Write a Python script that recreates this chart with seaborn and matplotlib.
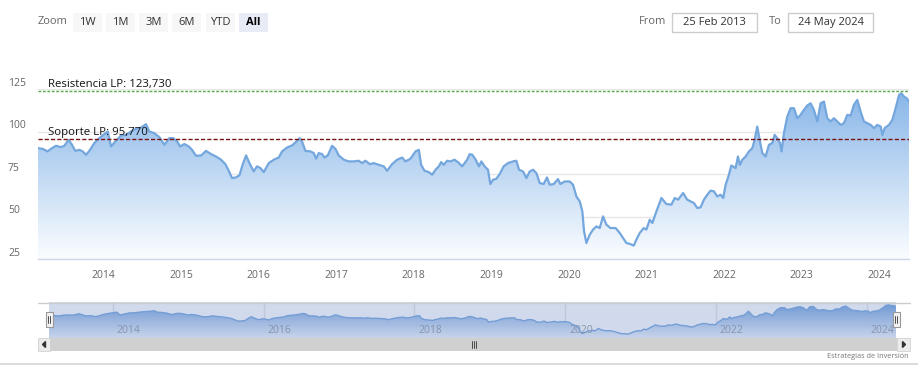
#!/usr/bin/env python3
import numpy as np
import pandas as pd
import matplotlib
matplotlib.use("Agg")
import matplotlib.pyplot as plt
from matplotlib.colors import LinearSegmentedColormap
from matplotlib.patches import Rectangle, Polygon
from matplotlib.transforms import blended_transform_factory, offset_copy
import seaborn as sns

# Price series (decimal years / closing price)
years = [
    2013.153, 2013.213, 2013.277, 2013.320, 2013.385, 2013.449, 2013.492, 2013.548, 2013.591, 2013.634,
    2013.686, 2013.729, 2013.772, 2013.815, 2013.880, 2013.944, 2014.009, 2014.052, 2014.095, 2014.159,
    2014.224, 2014.288, 2014.353, 2014.417, 2014.482, 2014.546, 2014.589, 2014.654, 2014.718, 2014.783,
    2014.847, 2014.899, 2014.955, 2014.985, 2015.041, 2015.097, 2015.140, 2015.191, 2015.256, 2015.320,
    2015.385, 2015.449, 2015.514, 2015.570, 2015.613, 2015.656, 2015.708, 2015.751, 2015.794, 2015.837,
    2015.880,
    2015.935, 2015.978, 2016.022, 2016.065, 2016.129, 2016.194, 2016.258, 2016.301, 2016.366, 2016.430,
    2016.486, 2016.529, 2016.559, 2016.602, 2016.667, 2016.710, 2016.740, 2016.774, 2016.817, 2016.847,
    2016.890, 2016.946, 2016.989, 2017.032, 2017.097, 2017.161, 2017.226, 2017.290, 2017.333, 2017.376,
    2017.432, 2017.484, 2017.548, 2017.613, 2017.656, 2017.720, 2017.785, 2017.849, 2017.892, 2017.957,
    2018.022, 2018.065, 2018.095, 2018.138, 2018.194, 2018.237, 2018.280, 2018.323, 2018.353, 2018.387,
    2018.430, 2018.473, 2018.525, 2018.568, 2018.624, 2018.688,
    2018.720, 2018.755, 2018.798, 2018.841, 2018.871, 2018.914, 2018.957, 2018.987, 2019.022, 2019.065,
    2019.108, 2019.159, 2019.215, 2019.280, 2019.323, 2019.357, 2019.409, 2019.452, 2019.495, 2019.538,
    2019.581, 2019.624, 2019.675, 2019.718, 2019.753, 2019.804, 2019.860, 2019.890, 2019.946, 2020.011,
    2020.054, 2020.097, 2020.140, 2020.174, 2020.196, 2020.226, 2020.269, 2020.312, 2020.355, 2020.398,
    2020.441, 2020.484, 2020.536, 2020.604, 2020.656, 2020.699, 2020.742, 2020.785, 2020.837, 2020.871,
    2020.914, 2020.966, 2021.000, 2021.043, 2021.077, 2021.129, 2021.194, 2021.258, 2021.323, 2021.366,
    2021.409, 2021.473,
    2021.527, 2021.570, 2021.613, 2021.656, 2021.699, 2021.742, 2021.785, 2021.828, 2021.871, 2021.914,
    2021.957, 2021.991, 2022.022, 2022.065, 2022.095, 2022.151, 2022.181, 2022.206, 2022.237, 2022.280,
    2022.323, 2022.366, 2022.396, 2022.430, 2022.465, 2022.495, 2022.538, 2022.581, 2022.624, 2022.654,
    2022.688, 2022.723, 2022.744, 2022.774, 2022.817, 2022.860, 2022.903, 2022.946, 2022.989, 2023.032,
    2023.075, 2023.118, 2023.161, 2023.204, 2023.247, 2023.290, 2023.333, 2023.376, 2023.419, 2023.462,
    2023.505, 2023.548, 2023.591, 2023.634, 2023.677, 2023.720, 2023.763, 2023.806, 2023.849, 2023.892,
    2023.935, 2023.978, 2024.022, 2024.043, 2024.073, 2024.129, 2024.172, 2024.215, 2024.258, 2024.288,
    2024.323, 2024.357, 2024.387,
]
prices = [
    90.2, 89.8, 88.3, 89.8, 91.6, 90.8, 91.6, 95.1, 92.2, 88.6,
    89.2, 88.3, 86.3, 88.6, 93.2, 96.1, 98.4, 100.0, 91.2, 94.5,
    97.7, 98.0, 100.0, 101.6, 102.3, 104.3, 100.0, 99.0, 96.7, 92.2,
    96.1, 96.1, 93.7, 91.2, 92.6, 91.2, 89.2, 85.7, 85.9, 88.6,
    86.7, 85.3, 83.4, 80.8, 76.9, 72.6, 73.0, 74.2, 80.8, 85.9,
    81.4,
    76.5, 79.5, 78.5, 76.1, 81.4, 83.4, 84.7, 88.3, 90.6, 91.8,
    94.1, 96.1, 94.1, 88.6, 88.3, 87.3, 84.0, 87.3, 86.7, 84.7,
    85.9, 91.6, 89.8, 85.9, 83.4, 82.4, 82.4, 82.8, 81.4, 82.8,
    80.8, 81.4, 80.4, 79.5, 76.9, 80.8, 83.4, 84.7, 82.4, 84.0,
    88.3, 89.2, 80.4, 76.9, 76.1, 74.6, 77.5, 79.5, 82.0, 80.4,
    82.8, 82.4, 83.4, 82.0, 79.5, 83.4,
    86.7, 86.3, 83.4, 79.5, 82.4, 79.5, 77.5, 69.1, 71.6, 72.2,
    75.0, 79.5, 81.4, 82.4, 82.8, 77.5, 76.5, 72.6, 76.5, 77.5,
    75.5, 69.7, 69.1, 73.0, 68.7, 69.1, 72.0, 69.1, 70.6, 70.6,
    68.7, 61.8, 58.9, 53.0, 41.3, 34.4, 39.3, 42.3, 44.2, 43.2,
    50.1, 45.2, 43.2, 43.2, 40.3, 37.4, 34.4, 33.9, 32.9, 36.4,
    40.3, 43.2, 42.3, 48.1, 46.2, 53.0, 60.9, 57.3, 57.0, 60.9,
    59.9, 63.8,
    59.9, 58.9, 57.9, 55.0, 55.4, 59.9, 62.8, 65.2, 64.8, 61.8,
    62.8, 60.9, 68.7, 74.6, 80.0, 78.5, 85.3, 80.4, 83.4, 85.3,
    88.3, 90.2, 95.1, 102.9, 94.1, 87.3, 85.3, 92.2, 93.2, 98.0,
    96.1, 93.2, 88.3, 99.0, 108.8, 113.7, 113.7, 107.8, 109.8, 112.7,
    115.3, 116.6, 112.7, 105.9, 116.6, 117.6, 107.8, 105.9, 107.8, 105.9,
    103.9, 104.9, 109.8, 109.4, 115.7, 118.6, 111.7, 105.9, 104.9, 103.9,
    102.0, 103.9, 102.9, 98.0, 102.0, 103.9, 106.8, 113.7, 121.5, 122.5,
    120.5, 119.6, 117.6,
]

year_ticks = [2014, 2015, 2016, 2017, 2018, 2019, 2020, 2021, 2022, 2023, 2024]
nav_ticks = [2014, 2016, 2018, 2020, 2022, 2024]
y_ticks = [25, 50, 75, 100, 125]

resistance = 123.73
support = 95.77
resistance_label = "Resistencia LP: 123,730"
support_label = "Soporte LP: 95,770"

zoom_buttons = ["1W", "1M", "3M", "6M", "YTD", "All"]
date_from = "25 Feb 2013"
date_to = "24 May 2024"

W, H = 918, 379


def fx(px):
    return px / W


def fy(py):
    return 1 - py / H


def fig_rect(fig, x0, y0, x1, y1, **kw):
    r = Rectangle((fx(x0), fy(y1)), fx(x1) - fx(x0), fy(y0) - fy(y1),
                  transform=fig.transFigure, **kw)
    fig.add_artist(r)
    return r


def gradient_fill(ax, x, y, base, top, c_top, c_bot):
    cmap = LinearSegmentedColormap.from_list("fill", [c_bot, c_top])
    grad = np.linspace(1, 0, 256).reshape(-1, 1)
    im = ax.imshow(grad, aspect="auto", cmap=cmap, origin="upper",
                   extent=[min(x), max(x), base, top], zorder=1)
    poly = ax.fill_between(x, y, base, color="none", lw=0)
    im.set_clip_path(poly.get_paths()[0], transform=ax.transData)


df = pd.DataFrame({"year": years, "price": prices})

sns.set_style("white")
plt.rcParams["font.family"] = ["Open Sans", "DejaVu Sans"]

fig = plt.figure(figsize=(W / 100, H / 100), dpi=100)

# ---------------- main chart ----------------
x_lo, x_hi = years[0], years[-1]
ax = fig.add_axes([fx(38), fy(259), fx(909) - fx(38), fy(89) - fy(259)])
gradient_fill(ax, df["year"], df["price"], 25, 125, "#86b5e8", "#fbfdff")
sns.lineplot(data=df, x="year", y="price", ax=ax, color="#74a7dd", lw=1.6, zorder=3)
ax.set_xlim(x_lo, x_hi)
ax.set_ylim(25, 125)

ax.set_yticks(y_ticks)
ax.set_yticklabels([])
ax.tick_params(axis="y", length=0)
ax.grid(axis="y", color="#e6e6e6", lw=1)
ax.grid(axis="x", visible=False)
ax.set_axisbelow(True)
for s in ["left", "right", "top"]:
    ax.spines[s].set_visible(False)
ax.spines["bottom"].set_color("#ccd6eb")
ax.spines["bottom"].set_linewidth(1)
ax.set_xticks(year_ticks)
ax.set_xticklabels([str(t) for t in year_ticks])
ax.tick_params(axis="x", direction="out", length=7, width=1, color="#ccd6eb",
               labelcolor="#666666", labelsize=7.5, pad=1)
ax.set_xlabel("")
ax.set_ylabel("")

# y labels sit just above their gridlines at the left edge
ytrans = offset_copy(blended_transform_factory(fig.transFigure, ax.transData),
                     fig=fig, x=0, y=4.2, units="points")
for v in y_ticks:
    ax.text(fx(8), v, str(v), transform=ytrans, ha="left", va="center",
            fontsize=7.5, color="#666666", clip_on=False)

# support / resistance levels
ax.axhline(resistance, color="#58a84a", lw=1, ls=(0, (2, 1.2)), zorder=4)
ax.axhline(support, color="#7a1212", lw=1, ls=(0, (3, 1.5)), zorder=4)
ltrans = offset_copy(blended_transform_factory(ax.transAxes, ax.transData),
                     fig=fig, x=0, y=0.5, units="points")
ax.text(0.0115, resistance, resistance_label, transform=ltrans, ha="left",
        va="bottom", fontsize=8.2, color="#111111", zorder=5, clip_on=False)
ax.text(0.0115, support, support_label, transform=ltrans, ha="left",
        va="bottom", fontsize=8.2, color="#111111", zorder=5, clip_on=False)

# ---------------- navigator ----------------
nav = fig.add_axes([fx(49), fy(338), fx(896) - fx(49), fy(302) - fy(338)])
nav.set_xlim(x_lo, x_hi)
nav.set_ylim(21, 131)
for t in nav_ticks:
    nav.axvline(t, color="#e6e6e6", lw=1, zorder=0)
gradient_fill(nav, df["year"], df["price"], 21, 131, "#6f9fdc", "#f2f6fc")
sns.lineplot(data=df, x="year", y="price", ax=nav, color="#7aa8de", lw=1, zorder=3)
nav.add_patch(Rectangle((0, 0), 1, 1, transform=nav.transAxes,
                        color="#6685c2", alpha=0.3, lw=0, zorder=4))
ntrans = blended_transform_factory(nav.transData, nav.transAxes)
for t in nav_ticks:
    nav.text(t + 0.05, 0.2, str(t), transform=ntrans, ha="left", va="center",
             fontsize=7.5, color="#8794ad", zorder=5)
nav.set_xticks([])
nav.set_yticks([])
nav.set_xlabel("")
nav.set_ylabel("")
for s in nav.spines.values():
    s.set_visible(False)

# navigator outline + handles
fig.add_artist(plt.Line2D([fx(38), fx(910)], [fy(302.5), fy(302.5)],
                          transform=fig.transFigure, color="#cccccc", lw=1))
for hx in [49, 896]:
    fig_rect(fig, hx - 3.5, 312, hx + 3.5, 327, facecolor="#f2f2f2",
             edgecolor="#999999", lw=0.8, zorder=6)
    for dx in (-1, 1):
        fig.add_artist(plt.Line2D([fx(hx + dx), fx(hx + dx)], [fy(316), fy(323)],
                                  transform=fig.transFigure, color="#333333",
                                  lw=0.6, zorder=7))

# scrollbar
fig_rect(fig, 38, 338, 910, 351, facecolor="#f2f2f2", edgecolor="none")
fig_rect(fig, 50, 338, 897, 351, facecolor="#d0d0d0", edgecolor="none")
fig_rect(fig, 38, 338, 50, 351, facecolor="#ebebeb", edgecolor="#cccccc", lw=0.5)
fig_rect(fig, 897, 338, 910, 351, facecolor="#ebebeb", edgecolor="#cccccc", lw=0.5)
for pts in ([(45.5, 341.5), (45.5, 347.5), (42.5, 344.5)],
            [(902.5, 341.5), (902.5, 347.5), (905.5, 344.5)]):
    fig.add_artist(Polygon([(fx(a), fy(b)) for a, b in pts], closed=True,
                           transform=fig.transFigure, color="#333333"))
for dx in (-2, 0, 2):
    fig.add_artist(plt.Line2D([fx(474 + dx), fx(474 + dx)], [fy(341), fy(348)],
                              transform=fig.transFigure, color="#333333", lw=0.6))

# credits + bottom rule
fig.text(fx(909), fy(357), "Estrategias de Inversión", ha="right", va="center",
         fontsize=5.3, color="#777777")
fig.add_artist(plt.Line2D([0, 1], [fy(364), fy(364)], transform=fig.transFigure,
                          color="#d4d4d4", lw=1.2))

# ---------------- range selector ----------------
fig.text(fx(53), fy(22), "Zoom", ha="center", va="center", fontsize=8, color="#666666")
bx = [73, 106, 139, 172, 206, 239]
for x0, lab in zip(bx, zoom_buttons):
    sel = lab == "All"
    fig_rect(fig, x0, 13, x0 + 29, 32, facecolor="#e6ebf5" if sel else "#f7f7f7",
             edgecolor="none")
    fig.text(fx(x0 + 14.5), fy(22.5), lab, ha="center", va="center", fontsize=8,
             color="#000000" if sel else "#333333",
             fontweight="bold" if sel else "normal")

fig.text(fx(666), fy(22), "From", ha="right", va="center", fontsize=8, color="#666666")
fig.text(fx(775), fy(22), "To", ha="center", va="center", fontsize=8, color="#666666")
for x0, x1, lab in [(672, 757, date_from), (788, 873, date_to)]:
    fig_rect(fig, x0, 13, x1, 32, facecolor="white", edgecolor="#cccccc", lw=1)
    fig.text(fx((x0 + x1) / 2), fy(22.5), lab, ha="center", va="center",
             fontsize=8, color="#333333")

fig.savefig("out.png", dpi=100)
